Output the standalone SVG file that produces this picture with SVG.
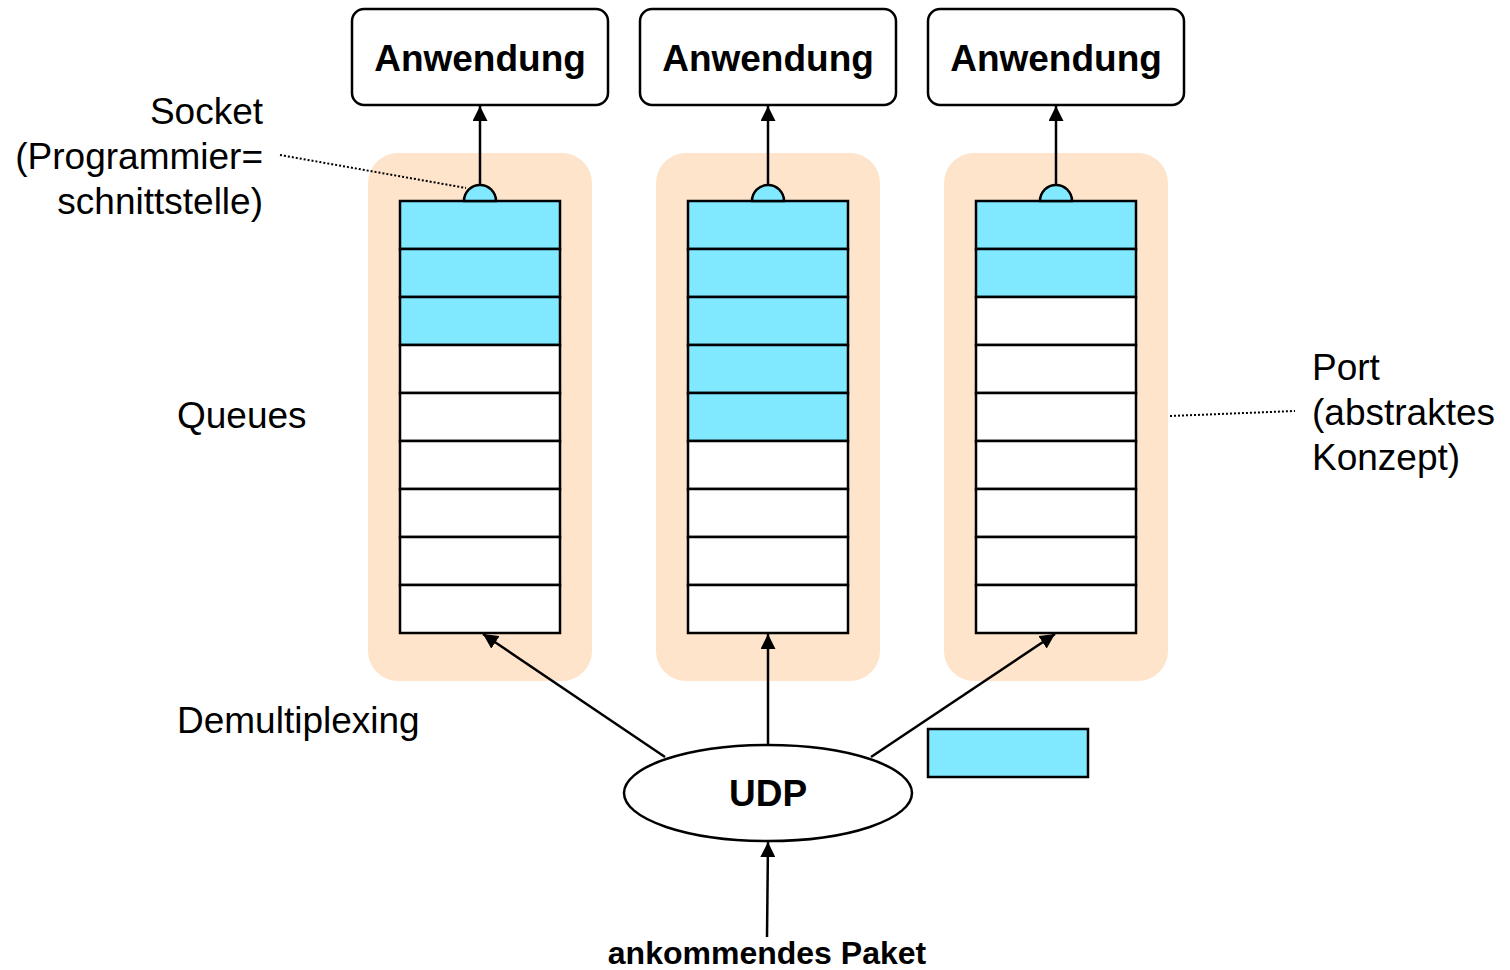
<svg xmlns="http://www.w3.org/2000/svg" width="1510" height="970" viewBox="0 0 1510 970">
<style>
.app{fill:#fff;stroke:#000;stroke-width:2.5}
.bg{fill:#FEE4CB}
.cell{fill:#fff;stroke:#000;stroke-width:2.5}
.full{fill:#80E8FF;stroke:#000;stroke-width:2.5}
.t{font-family:"Liberation Sans",Arial,sans-serif;font-size:37px;fill:#000}
.b{font-family:"Liberation Sans",Arial,sans-serif;font-weight:bold;fill:#000}
.ln{stroke:#000;stroke-width:2.5;fill:none}
.dot{stroke:#000;stroke-width:2;stroke-dasharray:2 2;fill:none}
</style>
<defs>
<marker id="ah" markerWidth="6" markerHeight="6" refX="6" refY="3" orient="auto" markerUnits="strokeWidth">
<path d="M0,0 L6,3 L0,6 Z" fill="#000"/>
</marker>
</defs>

<g id="app1"><rect class="app" x="352" y="9" width="256" height="96" rx="12"/><text class="b" x="480" y="71" font-size="37" text-anchor="middle">Anwendung</text></g>
<g id="app2"><rect class="app" x="640" y="9" width="256" height="96" rx="12"/><text class="b" x="768" y="71" font-size="37" text-anchor="middle">Anwendung</text></g>
<g id="app3"><rect class="app" x="928" y="9" width="256" height="96" rx="12"/><text class="b" x="1056" y="71" font-size="37" text-anchor="middle">Anwendung</text></g>

<g id="port1">
<rect class="bg" x="368" y="153" width="224" height="528" rx="30"/>
<rect class="full" x="400" y="201" width="160" height="48"/>
<rect class="full" x="400" y="249" width="160" height="48"/>
<rect class="full" x="400" y="297" width="160" height="48"/>
<rect class="cell" x="400" y="345" width="160" height="48"/>
<rect class="cell" x="400" y="393" width="160" height="48"/>
<rect class="cell" x="400" y="441" width="160" height="48"/>
<rect class="cell" x="400" y="489" width="160" height="48"/>
<rect class="cell" x="400" y="537" width="160" height="48"/>
<rect class="cell" x="400" y="585" width="160" height="48"/>
<path class="full" d="M464,201 A16,16 0 0 1 496,201 Z"/>
</g>
<g id="port2">
<rect class="bg" x="656" y="153" width="224" height="528" rx="30"/>
<rect class="full" x="688" y="201" width="160" height="48"/>
<rect class="full" x="688" y="249" width="160" height="48"/>
<rect class="full" x="688" y="297" width="160" height="48"/>
<rect class="full" x="688" y="345" width="160" height="48"/>
<rect class="full" x="688" y="393" width="160" height="48"/>
<rect class="cell" x="688" y="441" width="160" height="48"/>
<rect class="cell" x="688" y="489" width="160" height="48"/>
<rect class="cell" x="688" y="537" width="160" height="48"/>
<rect class="cell" x="688" y="585" width="160" height="48"/>
<path class="full" d="M752,201 A16,16 0 0 1 784,201 Z"/>
</g>
<g id="port3">
<rect class="bg" x="944" y="153" width="224" height="528" rx="30"/>
<rect class="full" x="976" y="201" width="160" height="48"/>
<rect class="full" x="976" y="249" width="160" height="48"/>
<rect class="cell" x="976" y="297" width="160" height="48"/>
<rect class="cell" x="976" y="345" width="160" height="48"/>
<rect class="cell" x="976" y="393" width="160" height="48"/>
<rect class="cell" x="976" y="441" width="160" height="48"/>
<rect class="cell" x="976" y="489" width="160" height="48"/>
<rect class="cell" x="976" y="537" width="160" height="48"/>
<rect class="cell" x="976" y="585" width="160" height="48"/>
<path class="full" d="M1040,201 A16,16 0 0 1 1072,201 Z"/>
</g>

<g id="udp"><ellipse cx="768" cy="793" rx="144" ry="48" fill="#fff" stroke="#000" stroke-width="2.5"/><text class="b" x="768" y="806" font-size="37" text-anchor="middle">UDP</text></g>
<g id="packet"><rect x="928" y="729" width="160" height="48" fill="#80E8FF" stroke="#000" stroke-width="2.5"/></g>

<g id="connectors">
<line class="ln" x1="480" y1="185" x2="480" y2="106" marker-end="url(#ah)"/>
<line class="ln" x1="768" y1="185" x2="768" y2="106" marker-end="url(#ah)"/>
<line class="ln" x1="1056" y1="185" x2="1056" y2="106" marker-end="url(#ah)"/>
<line class="ln" x1="665" y1="757" x2="483" y2="634" marker-end="url(#ah)"/>
<line class="ln" x1="768" y1="744" x2="768" y2="634" marker-end="url(#ah)"/>
<line class="ln" x1="871" y1="757" x2="1055" y2="634" marker-end="url(#ah)"/>
<line class="ln" x1="767" y1="937" x2="768" y2="842" marker-end="url(#ah)"/>
<line class="dot" x1="280" y1="155" x2="466" y2="188"/>
<line class="dot" x1="1170" y1="416" x2="1295" y2="411"/>
</g>

<g id="labels">
<text class="t" x="263" y="124" text-anchor="end">Socket</text>
<text class="t" x="263" y="169" text-anchor="end">(Programmier=</text>
<text class="t" x="263" y="214" text-anchor="end">schnittstelle)</text>
<text class="t" x="177" y="428">Queues</text>
<text class="t" x="177" y="733">Demultiplexing</text>
<text class="t" x="1312" y="380">Port</text>
<text class="t" x="1312" y="425">(abstraktes</text>
<text class="t" x="1312" y="470">Konzept)</text>
<text class="b" x="767" y="964" font-size="32" text-anchor="middle">ankommendes Paket</text>
</g>
</svg>
